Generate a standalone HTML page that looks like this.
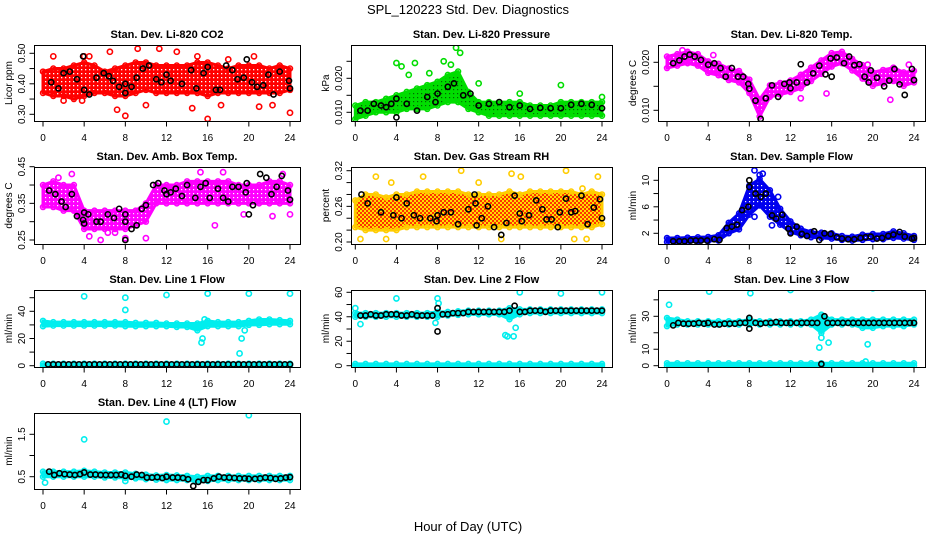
<!DOCTYPE html>
<html><head><meta charset="utf-8"><style>
html,body{margin:0;padding:0;background:#fff;}
svg{display:block;font-family:"Liberation Sans",sans-serif;}
</style></head><body>
<svg id="chart" width="936" height="540" viewBox="0 0 936 540">
<defs>
<pattern id="pat-red" width="4" height="4" patternUnits="userSpaceOnUse"><rect width="4" height="4" fill="#ff0000"/><rect x="1" y="1" width="1.3" height="1.3" fill="#fff"/></pattern>
<pattern id="pat-grn" width="4" height="4" patternUnits="userSpaceOnUse"><rect width="4" height="4" fill="#00dd00"/><rect x="1" y="1" width="1.2" height="1.2" fill="#006600"/></pattern>
<pattern id="pat-mag" width="4" height="4" patternUnits="userSpaceOnUse"><rect width="4" height="4" fill="#ff00ff"/><rect x="1" y="1" width="1.2" height="1.2" fill="#fff"/></pattern>
<pattern id="pat-rh" width="4" height="4" patternUnits="userSpaceOnUse"><rect width="4" height="4" fill="#ffdd00"/><rect x="0" y="0" width="2" height="2" fill="#ff3300"/><rect x="2" y="2" width="2" height="2" fill="#ff3300"/></pattern>
<pattern id="pat-blu" width="4" height="4" patternUnits="userSpaceOnUse"><rect width="4" height="4" fill="#0000ee"/><rect x="1" y="1" width="1.2" height="1.2" fill="#fff"/></pattern>
<pattern id="pat-cya" width="4" height="4" patternUnits="userSpaceOnUse"><rect width="4" height="4" fill="#00eeee"/></pattern>
</defs>
<text x="468" y="14" text-anchor="middle" font-size="13">SPL_120223  Std. Dev. Diagnostics</text>
<text x="468" y="531" text-anchor="middle" font-size="13">Hour of Day (UTC)</text>
</svg>
<script>
const hours = [0,1,2,3,4,5,6,7,8,9,10,11,12,13,14,15,16,17,18,19,20,21,22,23,24];
const xTicks = [0,4,8,12,16,20,24];

// Panel 1: CO2
const co2Lo = [0.37,0.36,0.36,0.35,0.36,0.37,0.37,0.36,0.36,0.37,0.38,0.37,0.37,0.37,0.37,0.37,0.36,0.37,0.37,0.37,0.37,0.37,0.37,0.37,0.38];
const co2Hi = [0.44,0.45,0.45,0.46,0.47,0.46,0.44,0.45,0.46,0.47,0.47,0.46,0.46,0.46,0.46,0.47,0.47,0.46,0.45,0.46,0.46,0.46,0.45,0.46,0.45];
const co2OutX = [1,4,4.5,6.5,9.2,11.3,13,20.5,8,16,7.2,14.5,21,24,10,17.3,22.3,2,3.8,18,15];
const co2OutY = [0.49,0.49,0.49,0.505,0.515,0.515,0.505,0.49,0.295,0.285,0.315,0.32,0.325,0.305,0.33,0.33,0.33,0.345,0.345,0.48,0.49];
const co2BlkX = [0.8,1.5,2,2.6,3.3,3.9,4,4.5,5.2,5.9,6.4,6.8,7.4,8,8,8.6,9.1,9.7,10.3,11,11.5,12,12.4,13.5,14.4,14.9,15.6,16,16.8,17.2,17.8,18.4,18.9,19.5,19.8,20.3,20.8,21.4,21.9,22.4,23,23.9,24];
const co2BlkY = [0.405,0.385,0.435,0.44,0.415,0.49,0.38,0.365,0.42,0.435,0.425,0.41,0.39,0.40,0.37,0.39,0.42,0.45,0.46,0.415,0.405,0.43,0.41,0.40,0.445,0.385,0.435,0.455,0.38,0.38,0.46,0.445,0.415,0.42,0.48,0.405,0.39,0.395,0.43,0.365,0.44,0.41,0.385];

// Panel 2: Pressure
const prLo = [0.008,0.009,0.010,0.010,0.010,0.011,0.011,0.011,0.012,0.013,0.013,0.011,0.010,0.009,0.009,0.009,0.009,0.009,0.009,0.009,0.009,0.009,0.009,0.009,0.009];
const prHi = [0.012,0.013,0.013,0.014,0.015,0.016,0.017,0.018,0.019,0.021,0.022,0.016,0.013,0.013,0.013,0.013,0.013,0.012,0.012,0.012,0.013,0.013,0.013,0.013,0.013];
const prOutX = [4,4.5,5.8,7.2,8.6,9.3,9.8,10,10.2,12,16,20,24,5.2];
const prOutY = [0.0245,0.0235,0.0245,0.0215,0.025,0.024,0.029,0.031,0.0275,0.0185,0.0155,0.018,0.0145,0.021];
const prBlkX = [0.5,1.2,1.8,2.5,3,3.5,4,4,5,6,7,7.8,8,9,9.6,10.5,11.2,12,13,14,15,16,17,18,19,20,21,22,23,24];
const prBlkY = [0.0105,0.0105,0.0125,0.012,0.0115,0.0125,0.014,0.0085,0.0125,0.0105,0.0145,0.013,0.0155,0.0175,0.0185,0.015,0.0155,0.012,0.0125,0.013,0.0115,0.012,0.011,0.0113,0.0112,0.0112,0.0122,0.0125,0.0122,0.0112];

// Panel 3: Li-820 Temp
const tpMid = [0.020,0.0205,0.021,0.0205,0.019,0.0185,0.0175,0.017,0.015,0.0105,0.014,0.0145,0.015,0.016,0.0175,0.019,0.0205,0.021,0.0195,0.018,0.0165,0.017,0.0175,0.0165,0.017];
const tpSpread = [0.0012,0.0012,0.0012,0.0012,0.0012,0.0012,0.0012,0.0012,0.0014,0.0018,0.0012,0.0012,0.0012,0.0014,0.0014,0.0014,0.0014,0.0012,0.0012,0.0014,0.0014,0.0014,0.0014,0.0014,0.0012];
const tpOutX = [1.5,4.5,10,13,15.5,21.7,23.5,19.5];
const tpOutY = [0.0225,0.0215,0.0135,0.0125,0.0135,0.0122,0.0195,0.0195];
const tpBlkX = [0.6,1.2,1.7,2.2,2.7,3.3,4,4.6,5.2,5.7,6.3,6.9,7.4,7.9,8,8.6,9.1,9.6,10.2,10.8,11.4,11.9,12,12.6,13,13.6,14.2,14.8,15.4,15.9,16,16.5,17.2,17.7,18.2,18.7,19.2,19.6,19.8,20.4,21.1,21.6,22.1,22.6,23.1,23.8,24];
const tpBlkY = [0.0198,0.0204,0.0212,0.0216,0.0212,0.0205,0.0195,0.0198,0.0188,0.017,0.0188,0.017,0.017,0.0155,0.0145,0.012,0.0082,0.0125,0.0152,0.0128,0.0155,0.0158,0.0146,0.0158,0.0196,0.0158,0.0177,0.0193,0.0175,0.0208,0.0170,0.0210,0.0198,0.0212,0.0194,0.0196,0.0170,0.0158,0.0183,0.0168,0.0150,0.0162,0.0186,0.0154,0.0132,0.0186,0.0163];

// Panel 4: Amb box temp
const abLo = [0.34,0.34,0.33,0.33,0.28,0.28,0.28,0.28,0.28,0.29,0.30,0.35,0.35,0.35,0.35,0.35,0.35,0.35,0.35,0.35,0.35,0.35,0.35,0.35,0.35];
const abHi = [0.40,0.41,0.40,0.40,0.33,0.33,0.33,0.33,0.33,0.33,0.35,0.40,0.40,0.40,0.41,0.41,0.41,0.41,0.41,0.40,0.40,0.40,0.41,0.41,0.40];
const abOutX = [2.8,4.5,5.6,6.3,7,8,10,16.7,19.5,22.3,23.3,24,1.5,15.3,17.5];
const abOutY = [0.43,0.26,0.25,0.27,0.27,0.255,0.255,0.29,0.32,0.315,0.43,0.32,0.42,0.435,0.435];
const abBlkX = [0.6,1.2,1.8,2.2,2.8,3.3,3.9,4,4,4.4,5.2,5.6,6.3,6.9,7.4,8,8,8,8.6,9.1,9.6,10,10.7,11.2,11.8,12,12.4,12.9,13.5,14,14.8,15.3,15.8,16.2,17,17.5,18,18.4,19,19.7,19.8,20,20.4,21.1,21.7,22.2,22.7,23.2,23.8,24];
const abBlkY = [0.385,0.375,0.355,0.34,0.375,0.315,0.305,0.325,0.295,0.32,0.3,0.3,0.32,0.31,0.335,0.32,0.3,0.25,0.28,0.29,0.335,0.345,0.40,0.405,0.385,0.375,0.38,0.39,0.37,0.40,0.365,0.395,0.405,0.365,0.39,0.365,0.355,0.395,0.395,0.38,0.405,0.32,0.345,0.43,0.42,0.375,0.395,0.425,0.385,0.36];

// Panel 5: RH
const rhLo = [0.225,0.22,0.22,0.22,0.22,0.225,0.225,0.225,0.225,0.225,0.225,0.225,0.225,0.225,0.225,0.225,0.225,0.225,0.225,0.225,0.225,0.225,0.225,0.225,0.23];
const rhHi = [0.27,0.28,0.28,0.275,0.28,0.28,0.285,0.285,0.285,0.285,0.285,0.28,0.28,0.28,0.28,0.285,0.28,0.285,0.285,0.285,0.285,0.285,0.28,0.285,0.28];
const rhOutX = [2,3.5,6.6,10.3,12,15.2,16.1,14.2,20.5,21.3,22.1,22.5,23.6,3,0.5];
const rhOutY = [0.31,0.30,0.31,0.32,0.30,0.315,0.31,0.205,0.32,0.205,0.29,0.205,0.31,0.205,0.205];
const rhBlkX = [0.6,1.2,2.5,3.7,4,4.5,5,5.7,6.3,7.3,7.9,8,8.6,9.3,10,11,11.6,11.7,11.8,12.3,12.9,13.5,14.2,14.7,15.5,16,16.2,16.9,17.6,18.2,18.6,19.1,19.7,19.9,20.5,21,21.4,22,22.6,23.2,23.8,24];
const rhBlkY = [0.28,0.265,0.25,0.245,0.275,0.24,0.265,0.245,0.24,0.24,0.235,0.245,0.25,0.25,0.23,0.255,0.28,0.265,0.228,0.24,0.26,0.225,0.212,0.232,0.278,0.248,0.235,0.245,0.27,0.255,0.238,0.238,0.225,0.25,0.273,0.25,0.252,0.278,0.23,0.258,0.272,0.24];

// Panel 6: Sample flow
const sfMid = [1,1,1.05,1.1,1.15,1.3,2.8,3.8,7,8.2,6.5,4.5,3,2.2,1.8,1.7,1.6,1.3,1.2,1.4,1.5,1.5,1.8,1.6,1.3];
const sfSpread = [0.3,0.3,0.3,0.3,0.3,0.4,0.8,1.2,2.2,2,2,1.2,0.8,0.5,0.4,0.4,0.4,0.3,0.3,0.4,0.4,0.4,0.5,0.4,0.3];
const sfOutX = [8.5,9,9.3,8.5,10.2,10.8,7.5];
const sfOutY = [11.5,10.8,11,4.5,3.2,7.5,4.5];
const sfBlkX = [0.6,1.2,1.7,2.3,2.8,3.3,3.9,4.6,5.1,5.8,6.3,6.8,7.3,7.9,8,8,8.6,9.1,9.6,10.2,10.6,11.2,11.8,12,12.6,13.1,13.6,14.3,14.8,15.3,15.9,16.5,17,17.6,18.2,18.8,19.3,19.8,20.4,20.9,21.5,22,22.6,23.1,23.8,24];
const sfBlkY = [0.8,0.8,0.8,0.9,0.9,0.9,0.9,1.1,1,2.8,3,3.3,5.5,6,9,10,8,7.5,8,4.7,4.2,4.8,2.7,2,3,1.9,1.6,2.3,1,2,1.9,1.4,1.2,1.1,1.1,1.3,1.4,1.5,1.2,1.3,1.6,1.8,2.2,1.5,1.2,1.3];

// Panel 7: Line 1 flow
const l1Lo = [29,29.5,29.5,29.5,29.5,29.5,29.5,29.5,29,29,29,29,29,28.5,28.5,26,29,29,29,29,30,30,30.5,30.5,30.5];
const l1Hi = [33,32,32,32,32,32,32,32,32,31.5,31.5,31.5,31,31,31,31,33,32,32,32,33,34,34,33.5,33];
const l1OutX = [4,8,8,12,16,20,24,15.4,15.5,19.1,19.3,19.6,15.7];
const l1OutY = [51,50,41,52,53,53,53,17,20,9,20,26,34];
const l1BlkX = [0.5,1,1.5,2,2.5,3,3.5,4,4.5,5,5.5,6,6.5,7,7.5,8,8.5,9,9.5,10,10.5,11,11.5,12,12.5,13,13.5,14,14.5,15,15.5,16,16.5,17,17.5,18,18.5,19,19.5,20,20.5,21,21.5,22,22.5,23,23.5,24];
const l1BlkY = [1,1,1,1,1,1,1,1,1,1,1,1,1,1,1,1,1,1,1,1,1,1,1,1,1,1,1,1,1,1,1,1,1,1,1,1,1,1,1,1,1,1,1,1,1,1,1,1];

// Panel 8: Line 2 flow
const l2Lo = [40,40,40,40,40,40,40,40,40,41,41.5,42,42,42,42,38,42,43,43,43,43,43,43,43,43];
const l2Hi = [43,43,43,43,43,43,43,43,44,44,44.5,45,45,45,45,47,46,46,46,46,46,46,46,46,46];
const l2ZeroLo = [0,0,0,0,0,0,0,0,0,0,0,0,0,0,0,0,0,0,0,0,0,0,0,0,0];
const l2ZeroHi = [1.5,1.5,1.5,1.5,1.5,1.5,1.5,1.5,1.5,1.5,1.5,1.5,1.5,1.5,1.5,1.5,1.5,1.5,1.5,1.5,1.5,1.5,1.5,1.5,1.5];
const l2OutX = [0,0.2,0.5,4,8,8.1,7.8,14.6,14.8,15.4,15.6,16,20,24];
const l2OutY = [47,42,34,55,55,51,35,25,24,24,31,60,59,60];
const l2BlkX = [0.5,1,1.5,2,2.5,3,3.5,4,4.5,5,5.5,6,6.5,7,7.5,8,8,8.5,9,9.5,10,10.5,11,11.5,12,12.5,13,13.5,14,14.5,15,15.5,16,16.5,17,17.5,18,18.5,19,19.5,20,20.5,21,21.5,22,22.5,23,23.5,24];
const l2BlkY = [41,41,42,41,41,42,42,42,41,41,42,41,41,41,41,47,28,42,42,43,43,43,44,44,44,44,44,44,44,44,45,49,44,44,45,45,45,44,45,45,45,45,45,45,45,45,45,45,45];

// Panel 9: Line 3 flow
const l3Lo = [24,25,25,25,25,25,25,25,25,25,25,25,25,25,25,20,25,25,25,23,23,24,24,24,25];
const l3Hi = [29,28,27,27,27,27,27,27,28,27,27,27,27,27,28,31,28,28,28,28,28,28,28,28,28];
const l3OutX = [0.2,4.1,8.1,12,16,20,24,14.8,15,15.7,19.5,19.3];
const l3OutY = [37,45,44,46,48,47,48,11,17,14,13,2.5];
const l3BlkX = [0.6,1.1,1.6,2.1,2.6,3.1,3.6,4,4.6,5.1,5.6,6.1,6.6,7.1,7.6,8,8,8.6,9.1,9.6,10.1,10.6,11.1,11.6,12,12.6,13.1,13.6,14.1,14.6,15,15.3,15.6,16.1,16.6,17.1,17.6,18.1,18.6,19.1,19.6,20.1,20.6,21.1,21.6,22.1,22.6,23.1,23.6,24];
const l3BlkY = [24.5,26,25.5,25.5,25.5,26,25.5,26,25,25,25.5,25.5,25.5,26,26,29,22.5,26,25.5,26,26,26.5,26,26,26,26,26,26,26,26,1,30,26,26,26,26,26,26,26,26,26,26,26,26,26,26,26,26,26,26];
const l3ZeroLo = [0,0,0,0,0,0,0,0,0,0,0,0,0,0,0,0,0,0,0,0,0,0,0,0,0];
const l3ZeroHi = [1.5,1.5,1.5,1.5,1.5,1.5,1.5,1.5,1.5,1.5,1.5,1.5,1.5,1.5,1.5,1.5,1.5,1.5,1.5,1.5,1.5,1.5,1.5,1.5,1.5];

// Panel 10: Line 4 flow
const l4Lo = [0.5,0.5,0.5,0.5,0.5,0.5,0.48,0.48,0.47,0.46,0.44,0.43,0.42,0.42,0.42,0.38,0.4,0.42,0.42,0.42,0.42,0.42,0.42,0.42,0.42];
const l4Hi = [0.62,0.62,0.62,0.62,0.64,0.62,0.6,0.6,0.6,0.57,0.55,0.53,0.54,0.53,0.52,0.5,0.52,0.52,0.52,0.52,0.52,0.52,0.52,0.52,0.52];
const l4OutX = [4,12,20,0.2,8];
const l4OutY = [1.38,1.8,1.95,0.36,0.4];
const l4BlkX = [0.6,1.1,1.6,2.1,2.6,3.1,3.6,4,4.6,5.1,5.6,6.1,6.6,7.1,7.6,8,8.6,9.1,9.6,10.1,10.6,11.1,11.6,12,12.6,13.1,13.6,14.1,14.6,15.1,15.6,16,16.6,17.1,17.6,18.1,18.6,19.1,19.6,20,20.6,21.1,21.6,22.1,22.6,23.1,23.6,24];
const l4BlkY = [0.62,0.54,0.58,0.56,0.55,0.54,0.56,0.6,0.55,0.55,0.54,0.54,0.54,0.54,0.55,0.52,0.5,0.55,0.54,0.48,0.48,0.49,0.47,0.5,0.48,0.48,0.47,0.44,0.28,0.38,0.42,0.42,0.46,0.5,0.48,0.48,0.47,0.46,0.46,0.45,0.45,0.46,0.48,0.47,0.45,0.46,0.48,0.49];

const NS = "http://www.w3.org/2000/svg";
const svg = document.getElementById('chart');
function mk(tag, attrs, parent){const e=document.createElementNS(NS,tag);for(const k in attrs)e.setAttribute(k,attrs[k]);(parent||svg).appendChild(e);return e;}

const cols = [{l:34,r:300,x0:43,x24:290},{l:351,r:612,x0:355.3,x24:602},{l:658,r:925,x0:667,x24:914}];
const rows = [{t:45,b:121},{t:167,b:244},{t:290,b:367},{t:413,b:489}];

function panel(opt){
  const c=cols[opt.col], r=rows[opt.row];
  const g=mk('g',{});
  
  
  const xs=v=>c.x0+(c.x24-c.x0)*v/24;
  const ys=v=>opt.pA+(opt.pB-opt.pA)*(v-opt.vA)/(opt.vB-opt.vA);
  const clipId='clip'+opt.col+opt.row;
  const cp=mk('clipPath',{id:clipId},g);
  mk('rect',{x:c.l,y:r.t,width:c.r-c.l,height:r.b-r.t},cp);
  const pg=mk('g',{'clip-path':'url(#'+clipId+')'},g);
  (opt.bands||[]).forEach(bd=>{
    let pts=[];
    hours.forEach((h,i)=>pts.push(xs(h)+','+ys(bd.lo[i])));
    for(let i=hours.length-1;i>=0;i--)pts.push(xs(hours[i])+','+ys(bd.hi[i]));
    const p=mk('polygon',{points:pts.join(' '),fill:bd.fill,stroke:bd.color,'stroke-width':3,'stroke-linejoin':'round'},pg);
    
    
    hours.forEach((h,i)=>{
      [bd.lo[i],bd.hi[i]].forEach(v=>{
        const ci=mk('circle',{cx:xs(h),cy:ys(v),r:2.5,fill:'none',stroke:bd.color,'stroke-width':1.5},pg);
        
        
      });
    });
  });
  (opt.outX||[]).forEach((xv,i)=>{
    const ci=mk('circle',{cx:xs(xv),cy:ys(opt.outY[i]),r:2.6,fill:'none',stroke:opt.color,'stroke-width':1.6},pg);
    
    
  });
  (opt.blkX||[]).forEach((xv,i)=>{
    const ci=mk('circle',{cx:xs(xv),cy:ys(opt.blkY[i]),r:2.6,fill:'none',stroke:'#000','stroke-width':1.6},pg);
    
    
  });
  mk('rect',{x:c.l+0.5,y:r.t+0.5,width:c.r-c.l,height:r.b-r.t,fill:'none',stroke:'#000','stroke-width':1},g);
  const tt=mk('text',{x:(c.l+c.r)/2,y:r.t-7,'text-anchor':'middle','font-size':11,'font-weight':'bold'},g);
  tt.textContent=opt.title;
  
  
  const xb=r.b+0.5;
  mk('line',{x1:xs(0),x2:xs(24),y1:xb,y2:xb,stroke:'#000'},g);
  xTicks.forEach(t=>{
    mk('line',{x1:xs(t),x2:xs(t),y1:xb,y2:xb+5,stroke:'#000'},g);
    const tx=mk('text',{x:xs(t),y:r.b+20,'text-anchor':'middle','font-size':10},g);
    tx.textContent=t;
    
    
  });
  const yl=c.l+0.5;
  mk('line',{x1:yl,x2:yl,y1:ys(opt.ticks[0]),y2:ys(opt.ticks[opt.ticks.length-1]),stroke:'#000'},g);
  opt.ticks.forEach((t,i)=>{
    mk('line',{x1:yl-5,x2:yl,y1:ys(t),y2:ys(t),stroke:'#000'},g);
    if(opt.labels[i]!==''){
      const tx=mk('text',{x:0,y:0,'text-anchor':'middle','font-size':10,transform:'translate('+(c.l-9)+','+ys(t)+') rotate(-90)'},g);
      tx.textContent=opt.labels[i];
      
      
    }
  });
  const yt=mk('text',{x:0,y:0,'text-anchor':'middle','font-size':10,transform:'translate('+(c.l-22)+','+((r.t+r.b)/2)+') rotate(-90)'},g);
  yt.textContent=opt.ylab;
  
  
}

const RED='#ff0000',GRN='#00dd00',MAG='#ff00ff',BLU='#0000ee',CYA='#00eeee';
const midBand=(m,s)=>({lo:m.map((v,i)=>v-s[i]),hi:m.map((v,i)=>v+s[i])});

panel({name:'panel-co2',col:0,row:0,title:'Stan. Dev. Li-820 CO2',ylab:'Licor ppm',vA:0.30,pA:114.3,vB:0.50,pB:53.3,
  ticks:[0.30,0.35,0.40,0.45,0.50],labels:['0.30','','0.40','','0.50'],color:RED,
  bands:[{lo:co2Lo,hi:co2Hi,color:RED,fill:'url(#pat-red)'}],outX:co2OutX,outY:co2OutY,blkX:co2BlkX,blkY:co2BlkY});
panel({name:'panel-pressure',col:1,row:0,title:'Stan. Dev. Li-820 Pressure',ylab:'kPa',vA:0.010,pA:112.3,vB:0.020,pB:78.3,
  ticks:[0.010,0.015,0.020,0.025],labels:['0.010','','0.020',''],color:GRN,
  bands:[{lo:prLo,hi:prHi,color:GRN,fill:'url(#pat-grn)'}],outX:prOutX,outY:prOutY,blkX:prBlkX,blkY:prBlkY});
const tb=midBand(tpMid,tpSpread);
panel({name:'panel-li820-temp',col:2,row:0,title:'Stan. Dev. Li-820 Temp.',ylab:'degrees C',vA:0.010,pA:110.3,vB:0.020,pB:62.3,
  ticks:[0.010,0.015,0.020],labels:['0.010','','0.020'],color:MAG,
  bands:[{lo:tb.lo,hi:tb.hi,color:MAG,fill:'url(#pat-mag)'}],outX:tpOutX,outY:tpOutY,blkX:tpBlkX,blkY:tpBlkY});
panel({name:'panel-amb-box-temp',col:0,row:1,title:'Stan. Dev. Amb. Box Temp.',ylab:'degrees C',vA:0.25,pA:240,vB:0.45,pB:166.7,
  ticks:[0.25,0.30,0.35,0.40,0.45],labels:['0.25','','0.35','','0.45'],color:MAG,
  bands:[{lo:abLo,hi:abHi,color:MAG,fill:'url(#pat-mag)'}],outX:abOutX,outY:abOutY,blkX:abBlkX,blkY:abBlkY});
panel({name:'panel-gas-rh',col:1,row:1,title:'Stan. Dev. Gas Stream RH',ylab:'percent',vA:0.20,pA:242,vB:0.32,pB:170.7,
  ticks:[0.20,0.22,0.24,0.26,0.28,0.30,0.32],labels:['0.20','','','0.26','','','0.32'],color:'#ffcc00',
  bands:[{lo:rhLo,hi:rhHi,color:'#ffcc00',fill:'url(#pat-rh)'}],outX:rhOutX,outY:rhOutY,blkX:rhBlkX,blkY:rhBlkY});
const sb=midBand(sfMid,sfSpread);
panel({name:'panel-sample-flow',col:2,row:1,title:'Stan. Dev. Sample Flow',ylab:'ml/min',vA:2,pA:233.3,vB:10,pB:180.3,
  ticks:[2,4,6,8,10],labels:['2','','6','','10'],color:BLU,
  bands:[{lo:sb.lo,hi:sb.hi,color:BLU,fill:'url(#pat-blu)'}],outX:sfOutX,outY:sfOutY,blkX:sfBlkX,blkY:sfBlkY});
panel({name:'panel-line1-flow',col:0,row:2,title:'Stan. Dev. Line 1 Flow',ylab:'ml/min',vA:0,pA:365.7,vB:40,pB:311.3,
  ticks:[0,10,20,30,40,50],labels:['0','','20','','40',''],color:CYA,
  bands:[{lo:l1Lo,hi:l1Hi,color:CYA,fill:CYA},{lo:l2ZeroLo,hi:l2ZeroHi,color:CYA,fill:CYA}],outX:l1OutX,outY:l1OutY,blkX:l1BlkX,blkY:l1BlkY});
panel({name:'panel-line2-flow',col:1,row:2,title:'Stan. Dev. Line 2 Flow',ylab:'ml/min',vA:0,pA:365.7,vB:60,pB:292.3,
  ticks:[0,10,20,30,40,50,60],labels:['0','','20','','40','','60'],color:CYA,
  bands:[{lo:l2Lo,hi:l2Hi,color:CYA,fill:CYA},{lo:l2ZeroLo,hi:l2ZeroHi,color:CYA,fill:CYA}],outX:l2OutX,outY:l2OutY,blkX:l2BlkX,blkY:l2BlkY});
panel({name:'panel-line3-flow',col:2,row:2,title:'Stan. Dev. Line 3 Flow',ylab:'ml/min',vA:0,pA:365.7,vB:30,pB:316.3,
  ticks:[0,10,20,30,40],labels:['0','10','','30',''],color:CYA,
  bands:[{lo:l3Lo,hi:l3Hi,color:CYA,fill:CYA},{lo:l3ZeroLo,hi:l3ZeroHi,color:CYA,fill:CYA}],outX:l3OutX,outY:l3OutY,blkX:l3BlkX,blkY:l3BlkY});
panel({name:'panel-line4-flow',col:0,row:3,title:'Stan. Dev. Line 4 (LT) Flow',ylab:'ml/min',vA:0.5,pA:476.7,vB:1.5,pB:434.3,
  ticks:[0.5,1.0,1.5],labels:['0.5','','1.5'],color:CYA,
  bands:[{lo:l4Lo,hi:l4Hi,color:CYA,fill:CYA}],outX:l4OutX,outY:l4OutY,blkX:l4BlkX,blkY:l4BlkY});
</script>
</body></html>
